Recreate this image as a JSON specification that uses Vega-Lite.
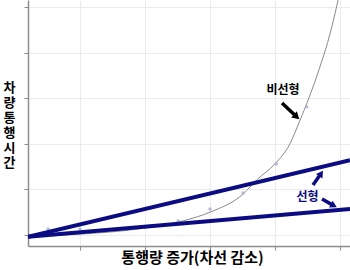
{
  "$schema": "https://vega.github.io/schema/vega-lite/v6.json",
  "width": 322,
  "height": 246,
  "autosize": {"type": "none"},
  "padding": {"left": 28, "top": 0, "right": 0, "bottom": 24},
  "background": "white",
  "config": {
    "view": {"stroke": null},
    "font": "Noto Sans CJK KR",
    "axis": {
      "grid": true,
      "gridColor": "#ebebeb",
      "gridWidth": 1,
      "domainColor": "#8c8c8c",
      "domainWidth": 1.5,
      "tickColor": "#8c8c8c",
      "tickSize": 4,
      "labels": false,
      "titleFont": "Noto Sans CJK KR",
      "titleFontWeight": "bold",
      "titleColor": "#000000"
    }
  },
  "datasets": {
    "curve": [
      {"x": 0.2, "y": -0.04},
      {"x": 1.0, "y": 0.02},
      {"x": 1.77, "y": 0.11},
      {"x": 2.585, "y": 0.31},
      {"x": 3.0, "y": 0.5},
      {"x": 3.51, "y": 0.9},
      {"x": 3.72, "y": 1.21},
      {"x": 4.0, "y": 1.56},
      {"x": 4.23, "y": 2.0},
      {"x": 4.38, "y": 2.5},
      {"x": 4.51, "y": 2.96},
      {"x": 4.69, "y": 3.68},
      {"x": 4.85, "y": 4.43},
      {"x": 4.97, "y": 5.15},
      {"x": 5.05, "y": 5.7}
    ],
    "dots": [
      {"x": 0.51, "y": 0.13},
      {"x": 1.0, "y": 0.13},
      {"x": 2.51, "y": 0.31},
      {"x": 3.0, "y": 0.57},
      {"x": 3.51, "y": 0.92},
      {"x": 4.02, "y": 1.56},
      {"x": 4.49, "y": 2.81}
    ],
    "linear": [
      {"series": "steep", "x": 0.2, "y": -0.04},
      {"series": "steep", "x": 5.154, "y": 1.64},
      {"series": "flat", "x": 0.2, "y": -0.04},
      {"series": "flat", "x": 5.154, "y": 0.57}
    ],
    "arrows": [
      {"id": "a", "group": "비선형", "x": 4.108, "y": 2.895, "x2": 4.32, "y2": 2.61},
      {"id": "b", "group": "선형", "x": 4.585, "y": 1.096, "x2": 4.7, "y2": 1.33},
      {"id": "c", "group": "선형", "x": 4.723, "y": 0.79, "x2": 4.89, "y2": 0.655}
    ],
    "labels": [
      {"group": "비선형", "text": "비선형", "x": 4.123, "y": 3.18},
      {"group": "선형", "text": "선형", "x": 4.5, "y": 0.83}
    ]
  },
  "encoding": {
    "x": {
      "field": "x",
      "type": "quantitative",
      "scale": {"domain": [0.2, 5.154], "nice": false, "zero": false},
      "axis": {
        "values": [1, 2, 3, 4, 5],
        "title": "통행량 증가(차선 감소)",
        "titleFontSize": 15,
        "titleX": 164,
        "titleY": 11,
        "titleBaseline": "middle",
        "titleAlign": "center"
      }
    },
    "y": {
      "field": "y",
      "type": "quantitative",
      "scale": {"domain": [-0.241, 5.154], "nice": false, "zero": false},
      "axis": {
        "values": [0, 1, 2, 3, 4, 5],
        "title": ["차", "량", "통", "행", "시", "간"],
        "titleAngle": 0,
        "titleFontSize": 13,
        "titleLineHeight": 15,
        "titleX": -19,
        "titleY": 81,
        "titleAlign": "center",
        "titleBaseline": "top"
      }
    }
  },
  "layer": [
    {
      "data": {"name": "curve"},
      "mark": {"type": "line", "color": "#8a8a8a", "strokeWidth": 1, "interpolate": "monotone", "clip": true}
    },
    {
      "data": {"name": "dots"},
      "mark": {"type": "point", "filled": true, "color": "#a4b0cc", "size": 12, "opacity": 0.85}
    },
    {
      "data": {"name": "linear"},
      "mark": {"type": "line", "color": "#0b0b82", "strokeWidth": 4, "clip": true},
      "encoding": {"detail": {"field": "series"}}
    },
    {
      "data": {"name": "arrows"},
      "mark": {"type": "rule", "strokeWidth": 3.5},
      "encoding": {
        "x2": {"field": "x2"},
        "y2": {"field": "y2"},
        "color": {"field": "group", "type": "nominal", "scale": {"domain": ["비선형", "선형"], "range": ["#000000", "#0b0b82"]}, "legend": null}
      }
    },
    {
      "data": {"name": "arrows"},
      "transform": [{"filter": "datum.id === 'a'"}],
      "mark": {"type": "point", "shape": "triangle", "filled": true, "size": 70, "angle": 133, "opacity": 1, "color": "#000000"},
      "encoding": {"x": {"field": "x2", "type": "quantitative"}, "y": {"field": "y2", "type": "quantitative"}}
    },
    {
      "data": {"name": "arrows"},
      "transform": [{"filter": "datum.id === 'b'"}],
      "mark": {"type": "point", "shape": "triangle", "filled": true, "size": 60, "angle": 34, "opacity": 1, "color": "#0b0b82"},
      "encoding": {"x": {"field": "x2", "type": "quantitative"}, "y": {"field": "y2", "type": "quantitative"}}
    },
    {
      "data": {"name": "arrows"},
      "transform": [{"filter": "datum.id === 'c'"}],
      "mark": {"type": "point", "shape": "triangle", "filled": true, "size": 60, "angle": 118, "opacity": 1, "color": "#0b0b82"},
      "encoding": {"x": {"field": "x2", "type": "quantitative"}, "y": {"field": "y2", "type": "quantitative"}}
    },
    {
      "data": {"name": "labels"},
      "mark": {"type": "text", "fontWeight": "bold", "fontSize": 12, "align": "center", "baseline": "middle"},
      "encoding": {
        "text": {"field": "text"},
        "color": {"field": "group", "type": "nominal", "scale": {"domain": ["비선형", "선형"], "range": ["#000000", "#0b0b82"]}, "legend": null}
      }
    }
  ]
}
